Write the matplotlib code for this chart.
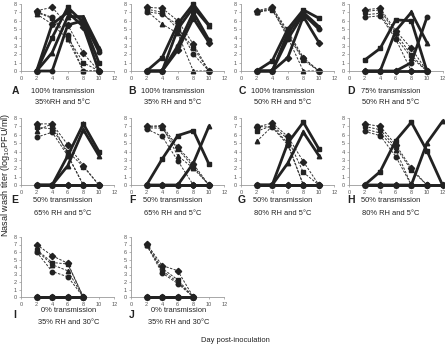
import matplotlib.pyplot as plt

plt.rcParams['font.family'] = ['Liberation Sans', 'DejaVu Sans']

# days sampled
days = [2, 4, 6, 8, 10]
days_h = [2, 4, 6, 8, 10, 12]
days_ij = [2, 4, 6, 8]

# index (inoculated) animals, dashed lines
index_A = [[7.2, 7.6, 5.5, 2.1, 0], [7.0, 6.3, 4.0, 1.0, 0], [6.8, 5.6, 3.8, 0, 0], [7.1, 6.4, 4.3, 0, 0]]
index_B = [[7.6, 7.5, 6.0, 3.2, 0], [7.4, 7.0, 5.0, 2.8, 0], [7.2, 5.6, 4.5, 0, 0], [7.1, 6.8, 5.5, 2.0, 0]]
index_C = [[7.2, 7.6, 4.8, 1.6, 0], [7.0, 7.3, 4.3, 1.3, 0], [7.1, 7.4, 4.0, 0, 0], [7.0, 7.5, 4.5, 1.5, 0]]
index_D = [[7.3, 7.5, 4.8, 2.7, 0], [7.1, 7.3, 4.5, 1.9, 0], [6.7, 6.9, 4.0, 1.6, 0], [6.4, 6.6, 3.8, 0, 0]]
index_E = [[7.3, 7.3, 4.8, 2.3, 0], [6.9, 6.7, 4.0, 2.2, 0], [6.5, 7.3, 3.6, 0, 0], [5.7, 6.3, 3.5, 0, 0]]
index_F = [[7.0, 7.1, 4.5, 2.5, 0], [6.8, 6.8, 4.3, 2.2, 0], [6.9, 7.0, 3.5, 2.0, 0], [6.7, 5.8, 2.9, 0, 0]]
index_G = [[6.9, 7.4, 5.8, 2.8, 0], [6.4, 7.1, 5.5, 1.5, 0], [5.2, 7.0, 5.0, 0, 0], [7.0, 6.9, 4.8, 0, 0]]
index_H = [[7.3, 7.0, 4.8, 2.0, 0], [7.0, 6.6, 4.5, 1.8, 0], [6.7, 6.2, 4.2, 0, 0], [6.4, 5.9, 3.4, 0, 0]]
index_I = [[7.0, 5.5, 4.5, 0], [6.3, 4.6, 4.4, 0], [6.2, 4.3, 3.5, 0], [6.0, 3.4, 2.7, 0]]
index_J = [[7.1, 4.2, 3.5, 0], [7.0, 3.8, 2.3, 0], [7.0, 3.5, 2.0, 0], [6.9, 3.2, 1.8, 0]]

# contact animals, thick lines
contact_A = [[0, 4.0, 7.6, 5.8, 1.0], [0, 2.2, 6.5, 6.5, 2.8], [0, 0, 5.5, 6.0, 2.3], [0, 5.6, 7.0, 5.3, 0]]
contact_B = [[0, 1.6, 5.6, 8.0, 5.5], [0, 0, 5.0, 7.6, 5.4], [0, 0, 3.0, 7.0, 3.7], [0, 0, 2.5, 6.3, 3.4]]
contact_C = [[0, 1.2, 5.0, 7.3, 6.3], [0, 0, 4.5, 7.0, 5.3], [0, 0, 3.8, 6.8, 5.0], [0, 0, 1.6, 6.5, 3.4]]
contact_D = [[1.3, 2.7, 6.1, 6.0, 0], [0, 0, 4.8, 7.0, 3.4], [0, 0, 0, 1.0, 6.4], [0, 0, 0, 0, 0]]
contact_E = [[0, 0, 3.5, 7.3, 4.0], [0, 0, 2.3, 6.6, 3.5], [0, 0, 0, 0, 0], [0, 0, 0, 0, 0]]
contact_F = [[0, 3.1, 5.9, 6.5, 2.5], [0, 0, 0, 2.6, 7.0], [0, 0, 0, 0, 0], [0, 0, 0, 0, 0]]
contact_G = [[0, 0, 5.0, 7.5, 4.3], [0, 0, 2.6, 6.3, 3.5], [0, 0, 0, 0, 0], [0, 0, 0, 0, 0]]
contact_H = [[0, 1.6, 5.3, 7.5, 4.1, 0], [0, 0, 0, 0, 5.0, 7.6], [0, 0, 0, 0, 0, 0], [0, 0, 0, 0, 0, 0]]
contact_I = [[0, 0, 0, 0], [0, 0, 0, 0], [0, 0, 0, 0], [0, 0, 0, 0]]
contact_J = [[0, 0, 0, 0], [0, 0, 0, 0], [0, 0, 0, 0], [0, 0, 0, 0]]

letters = ['A', 'B', 'C', 'D', 'E', 'F', 'G', 'H', 'I', 'J']
line1 = ['100% transmission', '100% transmission', '100% transmission', '75% transmission',
         '50% transmission', '50% transmission', '50% transmission', '50% transmission',
         '0% transmission', '0% transmission']
line2 = ['35%RH and 5\u00b0C', '35% RH and 5\u00b0C', '50% RH and 5\u00b0C', '50% RH and 5\u00b0C',
         '65% RH and 5\u00b0C', '65% RH and 5\u00b0C', '80% RH and 5\u00b0C', '80% RH and 5\u00b0C',
         '35% RH and 30\u00b0C', '35% RH and 30\u00b0C']

panels = [
    (days, index_A, days, contact_A), (days, index_B, days, contact_B),
    (days, index_C, days, contact_C), (days, index_D, days, contact_D),
    (days, index_E, days, contact_E), (days, index_F, days, contact_F),
    (days, index_G, days, contact_G), (days, index_H, days_h, contact_H),
    (days_ij, index_I, days_ij, contact_I), (days_ij, index_J, days_ij, contact_J),
]

markers = ['D', 's', '^', 'o']

W, H = 445, 346
col_left = [21, 131, 241, 349]
letter_x = [15, 132, 242, 351]
rows = [(4, 71), (118, 185), (237, 297)]
label_y = [(91, 103), (200, 213), (311, 323)]
letter_y = [91, 200, 315]
text_dx = [42, 42, 48]

fig = plt.figure(figsize=(W / 100, H / 100), dpi=100)

for i, (dx, idx, dc, con) in enumerate(panels):
    r, c = divmod(i, 4)
    top, bot = rows[r]
    ax = fig.add_axes([col_left[c] / W, 1 - bot / H, 93.5 / W, (bot - top) / H])
    for k, ys in enumerate(idx):
        ax.plot(dx[:len(ys)], ys, ls=(0, (2.5, 1.5)), lw=0.7, color='#333333',
                marker=markers[k], ms=3.2, mfc='#222222', mec='#222222', clip_on=False)
    for k, ys in enumerate(con):
        ax.plot(dc[:len(ys)], ys, lw=2.0, color='#222222', solid_joinstyle='miter',
                marker=markers[(k + 1) % 4], ms=3.2, mfc='#222222', mec='#222222',
                clip_on=False, zorder=3)
    ax.set_xlim(0, 12)
    ax.set_ylim(0, 8)
    ax.set_xticks(range(0, 13, 2))
    ax.set_yticks(range(0, 9))
    for s in ['top', 'right']:
        ax.spines[s].set_visible(False)
    for s in ['left', 'bottom']:
        ax.spines[s].set_color('#999999')
        ax.spines[s].set_linewidth(0.6)
    ax.tick_params(axis='both', labelsize=4, colors='#999999', labelcolor='#555555',
                   length=1.5, width=0.5)
    ax.tick_params(axis='x', pad=2)
    ax.tick_params(axis='y', pad=1.5)
    fig.text(letter_x[c] / W, 1 - letter_y[r] / H, letters[i], fontsize=7.5, fontweight='bold',
             color='#222222', ha='center', va='center')
    tx = (col_left[c] + text_dx[r]) / W
    fig.text(tx, 1 - label_y[r][0] / H, line1[i], fontsize=5.4, color='#222222',
             ha='center', va='center')
    fig.text(tx, 1 - label_y[r][1] / H, line2[i], fontsize=5.4, color='#222222',
             ha='center', va='center')

fig.text(6 / W, 1 - 175 / H, 'Nasal wash titer (log$_{10}$PFU/ml)', rotation=90,
         fontsize=6.5, color='#222222', ha='center', va='center')
fig.text(235 / W, 1 - 340 / H, 'Day post-inoculation', fontsize=5.4, color='#222222',
         ha='center', va='center')

fig.savefig('out.png', dpi=100)
